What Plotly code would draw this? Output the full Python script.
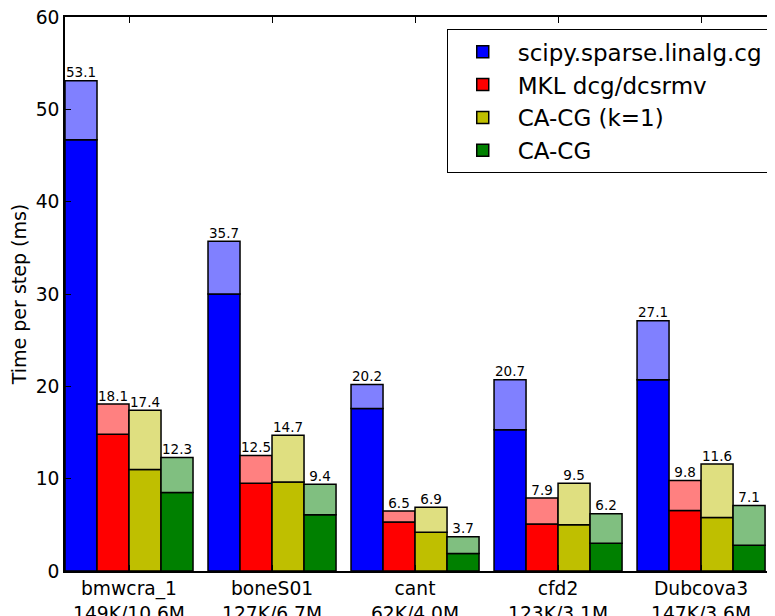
import plotly.graph_objects as go

groups = ["bmwcra_1<br>149K/10.6M", "boneS01<br>127K/6.7M", "cant<br>62K/4.0M",
          "cfd2<br>123K/3.1M", "Dubcova3<br>147K/3.6M"]
series = ["scipy.sparse.linalg.cg", "MKL dcg/dcsrmv", "CA-CG (k=1)", "CA-CG"]

# lower (dark) part and total height of each bar
lower_scipy = [46.7, 30.0, 17.6, 15.3, 20.7]
total_scipy = [53.1, 35.7, 20.2, 20.7, 27.1]
lower_mkl = [14.8, 9.5, 5.3, 5.1, 6.55]
total_mkl = [18.1, 12.5, 6.5, 7.9, 9.8]
lower_cak1 = [11.0, 9.65, 4.2, 5.0, 5.8]
total_cak1 = [17.4, 14.7, 6.9, 9.5, 11.6]
lower_cacg = [8.5, 6.1, 1.9, 3.0, 2.8]
total_cacg = [12.3, 9.4, 3.7, 6.2, 7.1]

lowers = [lower_scipy, lower_mkl, lower_cak1, lower_cacg]
totals = [total_scipy, total_mkl, total_cak1, total_cacg]
dark = ["#0000ff", "#ff0000", "#bfbf00", "#008000"]
light = ["#8080ff", "#ff8080", "#dfdf80", "#80bf80"]

w = 0.2238
idx = list(range(len(groups)))
fig = go.Figure()
line = dict(color="black", width=1.5)
for j in range(4):
    xs = [i + (j - 1.5) * w for i in idx]
    fig.add_trace(go.Bar(x=xs, y=lowers[j], width=w, marker=dict(color=dark[j], line=line),
                         name=series[j], showlegend=True, legendgroup=f"g{j}"))
    fig.add_trace(go.Bar(x=xs, y=[t - l for t, l in zip(totals[j], lowers[j])], base=lowers[j],
                         width=w, marker=dict(color=light[j], line=line), showlegend=False,
                         legendgroup=f"g{j}"))
    fig.add_trace(go.Scatter(x=xs, y=totals[j], mode="text", text=[f"{t:.1f}" for t in totals[j]],
                             textposition="top center", textfont=dict(size=13.5, color="black"),
                             showlegend=False, hoverinfo="skip", cliponaxis=False,
                             legendgroup=f"g{j}"))

fig.update_layout(
    width=775, height=616,
    margin=dict(l=57, r=6, t=9, b=53),
    plot_bgcolor="white", paper_bgcolor="white",
    barmode="overlay",
    font=dict(family="DejaVu Sans", color="black"),
    legend=dict(x=0.987, y=0.978, xanchor="right", yanchor="top", bordercolor="black",
                borderwidth=1, font=dict(size=23), bgcolor="white", tracegroupgap=0,
                itemwidth=60),
    xaxis=dict(range=[-0.4476, 4.531], tickmode="array", tickvals=idx, ticktext=groups,
               showline=True, linecolor="black", linewidth=1.5, mirror="ticks",
               ticks="inside", ticklen=6, tickcolor="black", showgrid=False, zeroline=False,
               tickfont=dict(size=18.7), automargin=False, ticklabeloverflow="allow"),
    yaxis=dict(range=[0, 60], tickvals=[0, 10, 20, 30, 40, 50, 60], showline=True,
               linecolor="black", linewidth=1.5, mirror="ticks", ticks="inside", ticklen=6,
               tickcolor="black", showgrid=False, zeroline=False, tickfont=dict(size=18.7),
               title=dict(text="Time per step (ms)", font=dict(size=19), standoff=6),
               automargin=False, ticklabeloverflow="allow"),
)
fig.write_html("out.html")
